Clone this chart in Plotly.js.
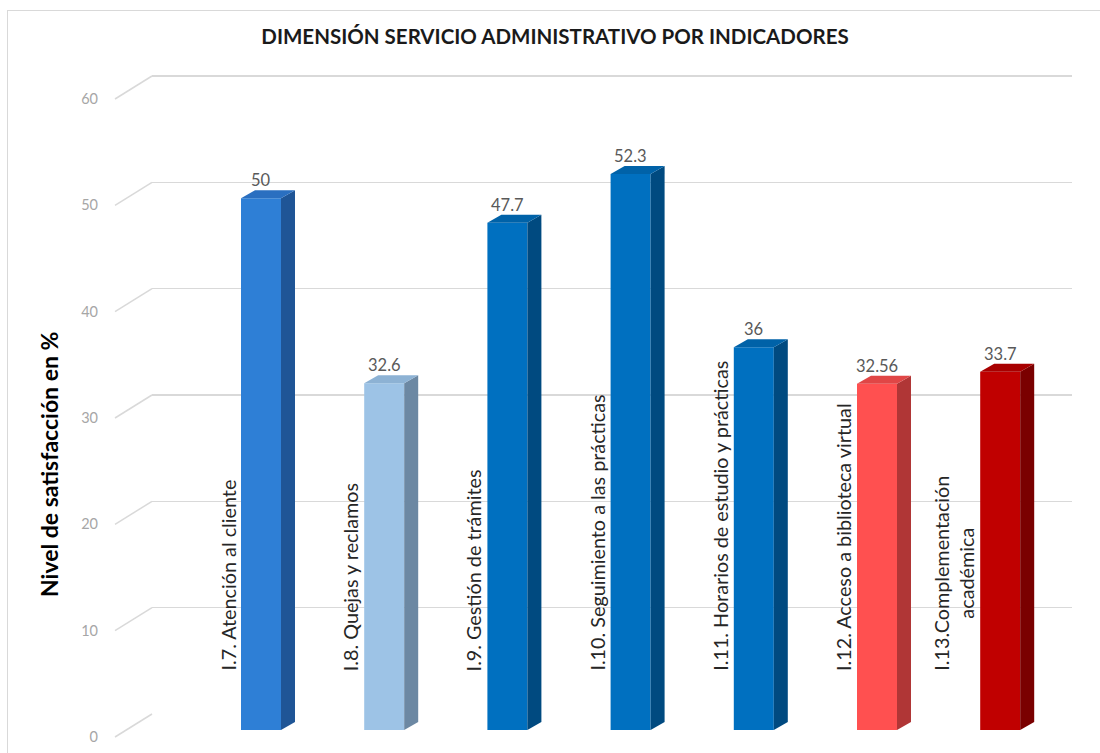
<!DOCTYPE html>
<html>
<head>
<meta charset="utf-8">
<script src="https://cdn.plot.ly/plotly-3.0.1.min.js"></script>
<style>
  html, body { margin: 0; padding: 0; background: #ffffff; }
  #wrap { position: relative; width: 1100px; height: 753px; }
  #chart { width: 1100px; height: 753px; }
  #frame { position: absolute; left: 7px; top: 10px; width: 1093px; height: 743px;
           border-left: 1px solid #d9d9d9; border-top: 1px solid #d9d9d9; pointer-events: none; }
</style>
</head>
<body>
<div id="wrap">
  <div id="chart"></div>
  <div id="frame"></div>
</div>
<script>
// ---- data ----
const categories = [
  'I.7. Atención al cliente',
  'I.8. Quejas y reclamos',
  'I.9. Gestión de trámites',
  'I.10. Seguimiento a las prácticas',
  'I.11. Horarios de estudio y prácticas',
  'I.12. Acceso a biblioteca virtual',
  'I.13.Complementación<br>académica'
];
const values = [50, 32.6, 47.7, 52.3, 36, 32.56, 33.7];
const valueLabels = ['50', '32.6', '47.7', '52.3', '36', '32.56', '33.7'];
const yTicks = [0, 10, 20, 30, 40, 50, 60];
const chartTitle = 'DIMENSIÓN SERVICIO ADMINISTRATIVO POR INDICADORES';
const yTitle = 'Nivel de satisfacción en %';

// ---- styles ----
const frontColors = ['#2E7FD6', '#9DC3E6', '#0070C0', '#0070C0', '#0070C0', '#FF5050', '#C00000'];
const sideColors  = ['#1F5596', '#6C88A3', '#004A80', '#004A80', '#004A80', '#B03636', '#7A0000'];
const topColors   = ['#2A6FC0', '#8DB2D4', '#0062A8', '#0062A8', '#0062A8', '#E04646', '#A80000'];
const FONT = 'Lato, "Open Sans", sans-serif';

// ---- geometry (pixels) ----
const W = 1100, H = 753;
const mL = 100, mR = 20, mT = 72, mB = 23;
const plotW = W - mL - mR;            // 980
const plotH = H - mT - mB;            // 658
const barPlaneH = 638;                // px for 0..60 on the bar plane
const backOffset = 16;                // back wall above bar plane
const pxPerCat = 123.2;
const firstCenterPx = 261;
const xr0 = -(firstCenterPx - mL) / pxPerCat;
const xr1 = xr0 + plotW / pxPerCat;
const ux = 1 / pxPerCat;
const uy = 60 / barPlaneH;
const bw = 40 * ux;
const depthX = 14 * ux, depthY = 8 * uy;
const gridStartPx = 152, gridEndPx = 1072;
const gridTop = (plotH - backOffset) * uy;   // grid axis upper range (slightly above 60)

const xs = values.map((v, i) => i);

const traces = [];
// invisible trace for the back-wall grid subplot
traces.push({ type: 'scatter', mode: 'none', x: [0.5], y: [0], xaxis: 'x', yaxis: 'y',
              showlegend: false, hoverinfo: 'skip' });
// front faces
traces.push({
  type: 'bar', x: xs, y: values, width: bw, xaxis: 'x2', yaxis: 'y2',
  marker: { color: frontColors, line: { width: 0 } },
  showlegend: false, hovertext: categories, hoverinfo: 'text+y'
});
// side and top faces
values.forEach((v, i) => {
  const r = i + bw / 2, l = i - bw / 2;
  traces.push({
    type: 'scatter', mode: 'lines', fill: 'toself', xaxis: 'x2', yaxis: 'y2',
    x: [r, r + depthX, r + depthX, r, r],
    y: [0, depthY, v + depthY, v, 0],
    fillcolor: sideColors[i], line: { width: 0, color: sideColors[i] },
    showlegend: false, hoverinfo: 'skip'
  });
  traces.push({
    type: 'scatter', mode: 'lines', fill: 'toself', xaxis: 'x2', yaxis: 'y2',
    x: [l, l + depthX, r + depthX, r, l],
    y: [v, v + depthY, v + depthY, v, v],
    fillcolor: topColors[i], line: { width: 0, color: topColors[i] },
    showlegend: false, hoverinfo: 'skip'
  });
});

const annotations = [];
values.forEach((v, i) => {
  annotations.push({
    xref: 'x2', yref: 'y2', x: i, y: v, text: valueLabels[i],
    xanchor: 'center', yanchor: 'bottom', yshift: 6, showarrow: false,
    font: { family: FONT, size: 16.5, color: '#595959' }
  });
  annotations.push({
    xref: 'x2', yref: 'y2', x: i - bw / 2, y: 57 * uy, text: categories[i],
    xanchor: 'right', yanchor: 'bottom', xshift: 0, textangle: -90,
    align: 'center', showarrow: false,
    font: { family: FONT, size: 19.8, color: '#262626' }
  });
});
annotations.push({
  xref: 'paper', yref: 'paper', x: (49 - mL) / plotW, y: (H - mB - 465) / plotH,
  text: yTitle, textangle: -90, showarrow: false, xanchor: 'center', yanchor: 'middle',
  font: { family: FONT, size: 23, color: '#000000', weight: 'bold' }
});

// diagonal connectors from the front tick labels to the back-wall grid
const shapes = yTicks.map(t => {
  const gridPx = backOffset + t / uy;           // px above bottom of plot area
  return {
    type: 'line', xref: 'paper', yref: 'paper',
    x0: (115 - mL) / plotW, x1: (gridStartPx - mL) / plotW,
    y0: (gridPx - 23) / plotH, y1: gridPx / plotH,
    line: { color: '#d9d9d9', width: 1.5 }, layer: 'below'
  };
});

const layout = {
  width: W, height: H,
  margin: { l: mL, r: mR, t: mT, b: mB, pad: 0 },
  paper_bgcolor: '#ffffff', plot_bgcolor: 'rgba(0,0,0,0)',
  showlegend: false,
  title: {
    text: chartTitle, xref: 'container', yref: 'container',
    x: 555 / W, y: 1 - 37 / H, xanchor: 'center', yanchor: 'middle',
    font: { family: FONT, size: 20.5, color: '#1a1a1a', weight: 'bold' }
  },
  xaxis: { domain: [(gridStartPx - mL) / plotW, (gridEndPx - mL) / plotW], range: [0, 1],
           anchor: 'y', visible: false, fixedrange: true },
  yaxis: { domain: [backOffset / plotH, 1], range: [0, gridTop], anchor: 'x',
           tickvals: yTicks, showgrid: true, gridcolor: '#d9d9d9', gridwidth: 1.5,
           showticklabels: false, ticks: '', zeroline: false, showline: false, fixedrange: true },
  xaxis2: { domain: [0, 1], range: [xr0, xr1], anchor: 'y2', visible: false, fixedrange: true },
  yaxis2: { domain: [0, barPlaneH / plotH], range: [0, 60], anchor: 'x2',
            tickvals: yTicks, ticktext: yTicks.map(String), showgrid: false, zeroline: false,
            showline: false, ticks: '', ticklabelshift: 7, ticklabelstandoff: 1,
            tickfont: { family: FONT, size: 14.5, color: '#a6a6a6' },
            fixedrange: true },
  annotations: annotations,
  shapes: shapes
};

Plotly.newPlot('chart', traces, layout, { displayModeBar: false, staticPlot: true });
</script>
</body>
</html>
